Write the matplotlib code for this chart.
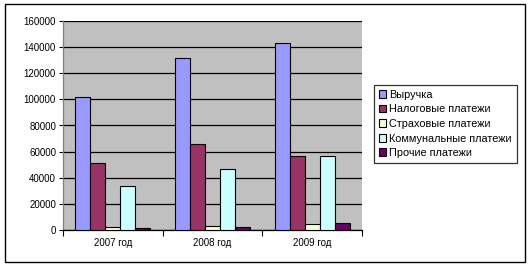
import numpy as np
import matplotlib.pyplot as plt
from matplotlib.patches import Rectangle

years = ['2007 год', '2008 год', '2009 год']
series = ['Выручка', 'Налоговые платежи', 'Страховые платежи',
          'Коммунальные платежи', 'Прочие платежи']
revenue = [101500, 132000, 143500]
taxes = [51500, 65500, 56500]
insurance = [2500, 3300, 4300]
utilities = [33500, 46500, 56500]
other = [1800, 2600, 5100]
values = [revenue, taxes, insurance, utilities, other]
colors = ['#9999FF', '#993366', '#FFFFCC', '#CCFFFF', '#660066']

plt.rcParams['font.family'] = ['Liberation Sans', 'DejaVu Sans']

fig = plt.figure(figsize=(5.3, 2.65), dpi=100)
fig.patches.append(Rectangle((5 / 530, 3 / 265), 520 / 530, 258 / 265,
                             transform=fig.transFigure, fill=False,
                             edgecolor='black', linewidth=1))
ax = fig.add_axes([63 / 530, 35 / 265, 299 / 530, 209 / 265])
ax.set_facecolor('#C0C0C0')

x = np.arange(len(years))
w = 0.15
for i, (name, vals) in enumerate(zip(series, values)):
    ax.bar(x + (i - 2) * w, vals, w, color=colors[i], edgecolor='black',
           linewidth=0.8, label=name, zorder=3)

ax.set_xlim(-0.5, 2.5)
ax.set_ylim(0, 160000)
ax.set_yticks(range(0, 160001, 20000))
ax.set_yticklabels([str(v) for v in range(0, 160001, 20000)], fontsize=7)
ax.yaxis.grid(True, color='black', linewidth=0.9, zorder=1)
ax.set_xticks(x)
ax.set_xticklabels(years, fontsize=7)
ax.tick_params(axis='x', length=0, pad=6)
ax.set_xticks([-0.5, 0.5, 1.5, 2.5], minor=True)
ax.tick_params(axis='x', which='minor', length=4, direction='out', width=0.8)
ax.tick_params(axis='y', length=3, width=0.8, pad=2)
for s in ['top', 'right']:
    ax.spines[s].set_visible(False)
ax.spines['left'].set_color('#808080')
ax.spines['bottom'].set_color('black')
ax.spines['left'].set_linewidth(0.9)
ax.spines['bottom'].set_linewidth(0.9)

leg = fig.legend(loc='upper left', bbox_to_anchor=(374 / 530, 1 - 85 / 265),
                 fontsize=7.8, frameon=True, fancybox=False, edgecolor='black',
                 handlelength=0.7, handleheight=0.7, handletextpad=0.25,
                 borderpad=0.45, labelspacing=0.42, borderaxespad=0)
leg.get_frame().set_linewidth(0.9)

fig.savefig('out.png', dpi=100)
